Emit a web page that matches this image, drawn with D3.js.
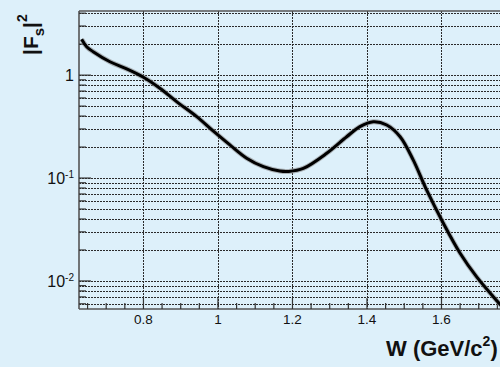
<!DOCTYPE html>
<html>
<head>
<meta charset="utf-8">
<script src="https://cdn.jsdelivr.net/npm/d3@7"></script>
<style>
  html, body { margin: 0; padding: 0; background: #ddf0fa; }
  svg { display: block; }
</style>
</head>
<body>
<svg id="chart" width="500" height="367"></svg>
<script>
// |F_s|^2 versus invariant mass W
const wValues = [0.634, 0.6475, 0.665, 0.71, 0.755, 0.80, 0.844, 0.889, 0.943, 0.987,
                 1.032, 1.077, 1.122, 1.166, 1.19, 1.229, 1.292, 1.3455, 1.381, 1.417,
                 1.453, 1.489, 1.524, 1.56, 1.605, 1.65, 1.694, 1.739, 1.78];
const fsSquared = [2.23, 1.89, 1.69, 1.35, 1.15, 0.954, 0.746, 0.553, 0.395, 0.287,
                   0.210, 0.156, 0.129, 0.117, 0.116, 0.124, 0.174, 0.252, 0.316, 0.353,
                   0.328, 0.252, 0.150, 0.0766, 0.0364, 0.0186, 0.0110, 0.00703, 0.0048];
const xMajorTicks = [0.8, 1.0, 1.2, 1.4, 1.6];
const xTickLabels = ["0.8", "1", "1.2", "1.4", "1.6"];
const yMajorTicks = [0.01, 0.1, 1];

const svg = d3.select("#chart");
const padL = 79, padT = 11, padB = 309, padR = 516;

const x = d3.scaleLinear().domain([0.627, 1.8]).range([padL, padR]);
const y = d3.scaleLog().domain([0.00534, 4.2]).range([padB, padT]);

// log ticks (1..9 per decade) inside the y domain
const yAllTicks = [];
for (let e = -3; e <= 0; e++) {
  for (let m = 1; m <= 9; m++) {
    const v = m * Math.pow(10, e);
    if (v >= y.domain()[0] && v <= y.domain()[1]) yAllTicks.push(v);
  }
}
const xMinorTicks = d3.range(0.65, 1.8, 0.05).filter(v => Math.abs(v * 5 - Math.round(v * 5)) > 1e-6);

svg.append("defs").append("clipPath").attr("id", "plotClip")
  .append("rect").attr("x", padL).attr("y", padT)
  .attr("width", padR - padL).attr("height", padB - padT);

// grid
const grid = svg.append("g").attr("stroke", "#2a2a2a").attr("stroke-width", 1)
  .attr("stroke-dasharray", "2,1").attr("fill", "none");
grid.selectAll("line.h").data(yAllTicks).join("line").attr("class", "h")
  .attr("x1", padL).attr("x2", padR)
  .attr("y1", d => Math.round(y(d)) + 0.5).attr("y2", d => Math.round(y(d)) + 0.5);
grid.selectAll("line.v").data(xMajorTicks).join("line").attr("class", "v")
  .attr("y1", padT).attr("y2", padB)
  .attr("x1", d => Math.round(x(d)) + 0.5).attr("x2", d => Math.round(x(d)) + 0.5);

// axis frame
const frame = svg.append("g").attr("stroke", "#555").attr("fill", "none").attr("stroke-width", 1.6);
frame.append("line").attr("x1", padL).attr("x2", padL).attr("y1", padT).attr("y2", padB);
frame.append("line").attr("x1", padL).attr("x2", padR).attr("y1", padB).attr("y2", padB);
frame.append("line").attr("x1", padL).attr("x2", padR).attr("y1", padT).attr("y2", padT);

// tick marks
const ticks = svg.append("g").attr("stroke", "#333").attr("stroke-width", 1.2);
ticks.selectAll("line.ym").data(yAllTicks).join("line").attr("class", "ym")
  .attr("x1", padL).attr("x2", d => padL + (yMajorTicks.includes(d) ? 12 : 7))
  .attr("y1", d => y(d)).attr("y2", d => y(d));
ticks.selectAll("line.xM").data(xMajorTicks).join("line").attr("class", "xM")
  .attr("y1", padB).attr("y2", padB - 11)
  .attr("x1", d => x(d)).attr("x2", d => x(d));
ticks.selectAll("line.xm").data(xMinorTicks).join("line").attr("class", "xm")
  .attr("y1", padB).attr("y2", padB - 6)
  .attr("x1", d => x(d)).attr("x2", d => x(d));

// curve
const line = d3.line().x((d, i) => x(wValues[i])).y(d => y(d)).curve(d3.curveCatmullRom.alpha(0.5));
const plot = svg.append("g").attr("clip-path", "url(#plotClip)");
plot.append("path").datum(fsSquared).attr("d", line)
  .attr("fill", "none").attr("stroke", "#888").attr("stroke-width", 5).attr("stroke-opacity", 0.6);
plot.append("path").datum(fsSquared).attr("d", line)
  .attr("fill", "none").attr("stroke", "#000").attr("stroke-width", 3);

// x tick labels
svg.append("g").selectAll("text").data(xMajorTicks).join("text")
  .attr("x", d => x(d)).attr("y", 323.5)
  .attr("text-anchor", "middle")
  .attr("font-family", "Liberation Sans, Arial, sans-serif").attr("font-size", 13.5)
  .attr("fill", "#111")
  .text((d, i) => xTickLabels[i]);

// y tick labels
const yl = svg.append("g").attr("font-family", "Liberation Sans, Arial, sans-serif").attr("fill", "#111");
yMajorTicks.forEach(v => {
  const e = Math.round(Math.log10(v));
  const t = yl.append("text").attr("x", 74).attr("y", y(v) + 6).attr("text-anchor", "end").attr("font-size", 16);
  if (e === 0) {
    t.text("1");
  } else {
    t.append("tspan").text("10");
    t.append("tspan").attr("font-size", 10).attr("dy", -6).text(String(e));
  }
});

// axis titles
svg.append("text")
  .attr("x", 386).attr("y", 356)
  .attr("font-family", "Liberation Sans, Arial, sans-serif").attr("font-weight", "bold")
  .attr("font-size", 22).attr("fill", "#111")
  .call(t => {
    t.append("tspan").text("W (GeV/c");
    t.append("tspan").attr("font-size", 14).attr("dy", -10).text("2");
    t.append("tspan").attr("dy", 10).text(")");
  });

svg.append("text")
  .attr("transform", "translate(38,55) rotate(-90)")
  .attr("font-family", "Liberation Sans, Arial, sans-serif").attr("font-weight", "bold")
  .attr("font-size", 21).attr("fill", "#111")
  .call(t => {
    t.append("tspan").text("|F");
    t.append("tspan").attr("font-size", 15).attr("dy", 6).text("s");
    t.append("tspan").attr("dy", -6).text("|");
    t.append("tspan").attr("font-size", 14).attr("dy", -11).text("2");
  });
</script>
</body>
</html>
